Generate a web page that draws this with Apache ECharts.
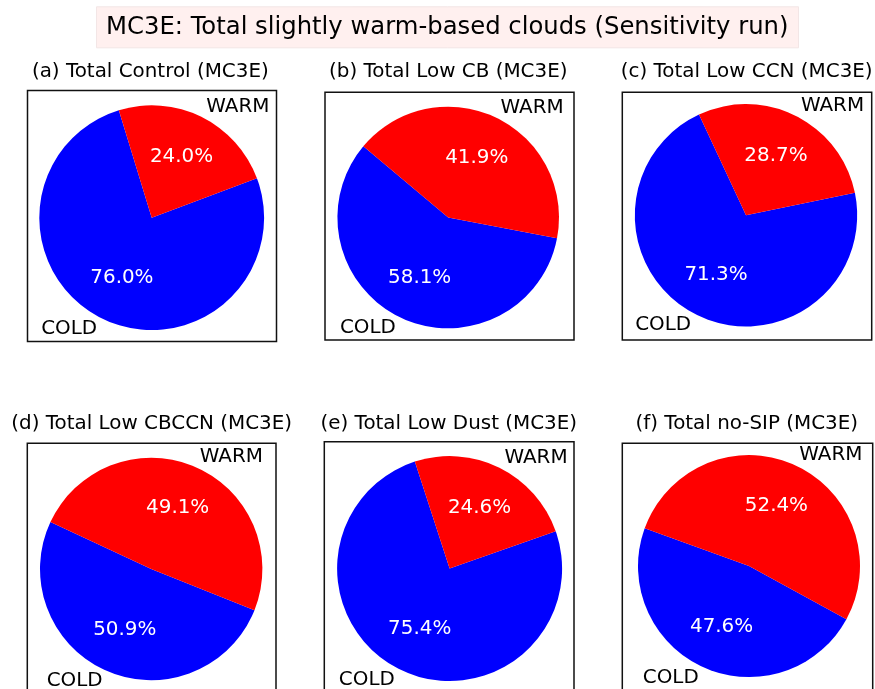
<!DOCTYPE html>
<html>
<head>
<meta charset="utf-8">
<script src="https://cdn.jsdelivr.net/npm/echarts@6/dist/echarts.min.js"></script>
<style>
html, body { margin: 0; padding: 0; background: #fff; }
#chart { width: 875px; height: 689px; }
</style>
</head>
<body>
<div id="chart"></div>
<script>
// ---------------- data ----------------
const mainTitle = 'MC3E: Total slightly warm-based clouds (Sensitivity run)';
const panelTitles = [
  '(a) Total Control (MC3E)',
  '(b) Total Low CB (MC3E)',
  '(c) Total Low CCN (MC3E)',
  '(d) Total Low CBCCN (MC3E)',
  '(e) Total Low Dust (MC3E)',
  '(f) Total no-SIP (MC3E)'
];
const categories = ['COLD', 'WARM'];
const coldPct = [76.0, 58.1, 71.3, 50.9, 75.4, 47.6];
const warmPct = [24.0, 41.9, 28.7, 49.1, 24.6, 52.4];

// ---------------- layout / style ----------------
const startAngles = [107, 140, 115, 155, 108, 160];
const pieCenters = [[151.7, 217.7], [448.2, 217.5], [746, 215.3], [151.2, 569], [449.6, 568.6], [749, 566.1]];
const pieRadii = [112.4, 110.8, 111.2, 111.2, 112.5, 111];
const boxes = [
  [27.5, 90.5, 249, 251],
  [325, 92.3, 249, 247.7],
  [622.3, 92.3, 249.4, 247.7],
  [27.3, 443.3, 248.7, 300],
  [324.3, 441.7, 249.7, 300],
  [622.3, 443.3, 250.4, 300]
];
const titlePos = [[150.3, 61.5], [448.3, 61.5], [746.7, 61.5], [151.7, 413.5], [448.8, 413.5], [746.8, 413.5]];
const sliceColors = ['#0000ff', '#ff0000'];
const FONT = 'DejaVu Sans';
const LABEL_SIZE = 19.9;

const chart = echarts.init(document.getElementById('chart'), null, { renderer: 'canvas' });

const titles = [{
  text: mainTitle,
  left: 96, top: 7,
  padding: [8.3, 10, 8.3, 10],
  backgroundColor: '#fff0ef',
  borderColor: '#f3e6e6',
  borderWidth: 1,
  textStyle: { fontFamily: FONT, fontSize: 24.3, fontWeight: 'normal', color: '#000' }
}];
panelTitles.forEach((t, i) => {
  titles.push({
    text: t,
    left: titlePos[i][0], top: titlePos[i][1],
    textAlign: 'center',
    padding: 0,
    textStyle: { fontFamily: FONT, fontSize: LABEL_SIZE, fontWeight: 'normal', color: '#000' }
  });
});

const grids = boxes.map(b => ({
  show: true, left: b[0], top: b[1], width: b[2], height: b[3],
  outerBoundsMode: 'none', containLabel: false,
  borderColor: '#111', borderWidth: 1.5, backgroundColor: 'transparent'
}));

const series = [];
panelTitles.forEach((t, i) => {
  const data = categories.map((c, k) => ({
    name: c,
    value: k === 0 ? coldPct[i] : warmPct[i],
    itemStyle: { color: sliceColors[k] }
  }));
  const r = pieRadii[i];
  series.push({
    type: 'pie',
    silent: true,
    animation: false,
    center: pieCenters[i],
    radius: [0, r],
    startAngle: startAngles[i],
    clockwise: false,
    avoidLabelOverlap: false,
    itemStyle: { borderWidth: 0 },
    label: {
      show: true, position: 'outside', formatter: '{b}',
      color: '#000', fontFamily: FONT, fontSize: LABEL_SIZE,
      distanceToLabelLine: 0, alignTo: 'none'
    },
    labelLine: { show: false, length: r * 0.1, length2: 0 },
    emphasis: { disabled: true },
    data: data
  });
  series.push({
    type: 'pie',
    silent: true,
    animation: false,
    z: 5,
    center: pieCenters[i],
    radius: [0, r * 1.2 - 6],
    startAngle: startAngles[i],
    clockwise: false,
    avoidLabelOverlap: false,
    itemStyle: { borderWidth: 0, color: 'rgba(0,0,0,0)' },
    label: {
      show: true, position: 'inside',
      formatter: p => p.value.toFixed(1) + '%',
      color: '#fff', fontFamily: FONT, fontSize: LABEL_SIZE
    },
    labelLine: { show: false },
    emphasis: { disabled: true },
    data: categories.map((c, k) => ({ name: c, value: k === 0 ? coldPct[i] : warmPct[i] }))
  });
});

chart.setOption({
  animation: false,
  backgroundColor: '#ffffff',
  title: titles,
  grid: grids,
  series: series
});
</script>
</body>
</html>
